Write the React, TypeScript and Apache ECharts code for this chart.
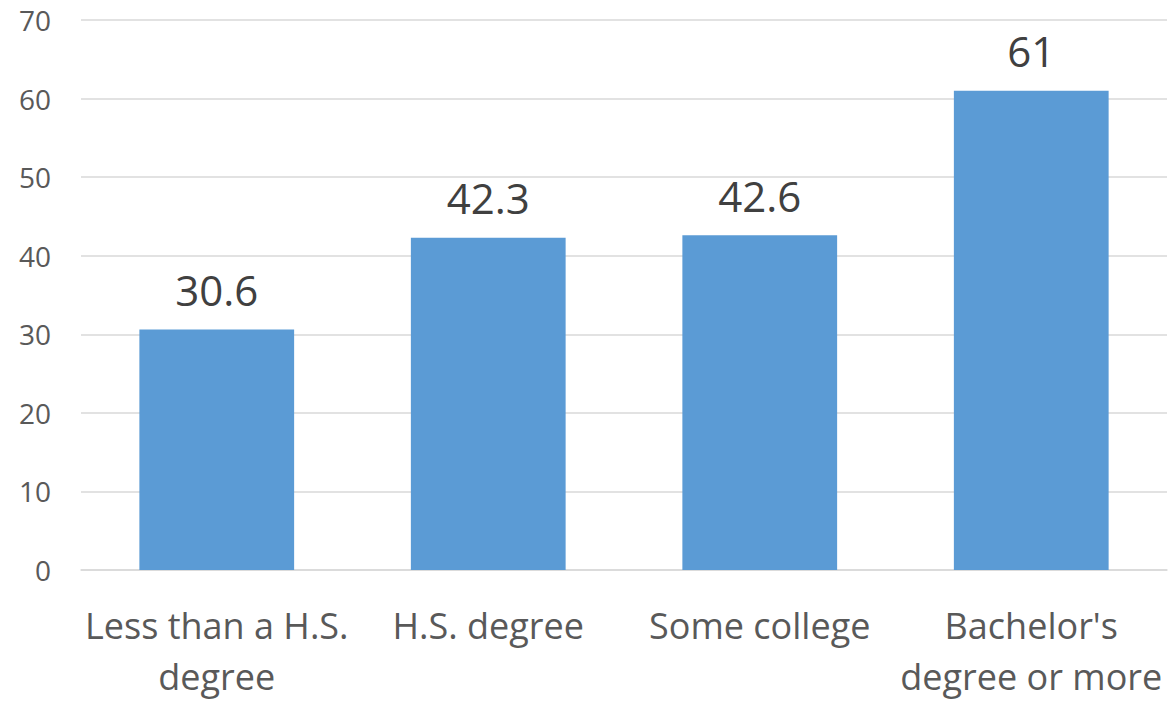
import React, { useEffect, useRef } from "react";
import * as echarts from "echarts";

const categories = ["Less than a H.S.\ndegree", "H.S. degree", "Some college", "Bachelor's\ndegree or more"];
const values = [30.6, 42.3, 42.6, 61];
const yTicks = { min: 0, max: 70, interval: 10 };

export default function App() {
  const ref = useRef<HTMLDivElement>(null);
  useEffect(() => {
    if (!ref.current) return;
    const chart = echarts.init(ref.current, null, { renderer: "svg" });
    chart.setOption({
      animation: false,
      grid: { left: 81, right: 4, top: 20, bottom: 130, containLabel: false },
      xAxis: {
        type: "category",
        data: categories,
        axisLine: { lineStyle: { color: "#d9d9d9", width: 1.5 } },
        axisTick: { show: false },
        axisLabel: {
          color: "#595959",
          fontFamily: "Open Sans",
          fontSize: 36,
          lineHeight: 51,
          margin: 30,
          interval: 0,
        },
      },
      yAxis: {
        type: "value",
        min: yTicks.min,
        max: yTicks.max,
        interval: yTicks.interval,
        axisLine: { show: false },
        axisTick: { show: false },
        splitLine: { lineStyle: { color: "#d9d9d9", width: 1.5 } },
        axisLabel: { color: "#595959", fontFamily: "Open Sans", fontSize: 28, margin: 30 },
      },
      series: [
        {
          type: "bar",
          data: values,
          barWidth: "57%",
          itemStyle: { color: "#5b9bd5" },
          label: {
            show: true,
            position: "top",
            distance: 19,
            color: "#404040",
            fontFamily: "Open Sans",
            fontSize: 42,
          },
        },
      ],
    });
    return () => chart.dispose();
  }, []);
  return (
    <div
      ref={ref}
      style={{ position: "absolute", left: 0, top: 0, width: 1171, height: 702, background: "#fff" }}
    />
  );
}
